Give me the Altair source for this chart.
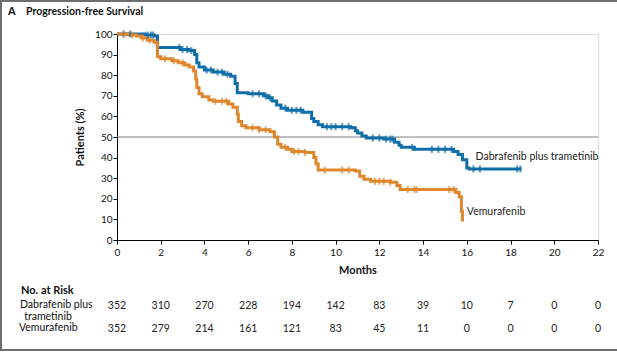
import altair as alt
import pandas as pd
import numpy as np

# ---------------- data ----------------
tick_months = [0, 2, 4, 6, 8, 10, 12, 14, 16, 18, 20, 22]
pct_ticks = [0, 10, 20, 30, 40, 50, 60, 70, 80, 90, 100]
risk_dab = [352, 310, 270, 228, 194, 142, 83, 39, 10, 7, 0, 0]
risk_vem = [352, 279, 214, 161, 121, 83, 45, 11, 0, 0, 0, 0]

dab_t = [0, 1.3, 1.7, 1.85, 2.9, 3.3, 3.55, 3.65, 3.75, 4.0, 4.4, 4.9, 5.2, 5.4, 5.5,
         6.0, 6.7, 6.9, 7.1, 7.3, 7.5, 7.8, 8.5, 8.9, 9.0, 9.2, 9.4, 10.7, 10.9, 11.0,
         11.2, 11.4, 12.2, 12.7, 12.9, 13.0, 13.6, 15.4, 15.6, 15.8, 16.0, 16.1, 18.5]
dab_s = [100, 99.5, 99, 93.5, 92.5, 92, 90, 86, 84, 82.5, 81.5, 80.5, 79.5, 76, 71.5,
         71, 70, 69, 67.5, 65.5, 64, 63, 62, 59, 57.5, 56, 55, 54.5, 53, 52,
         50.5, 49.5, 49, 47.5, 46, 45, 44, 43, 41.5, 39, 35, 34.5, 34.5]

vem_t = [0, 0.5, 0.9, 1.1, 1.4, 1.7, 1.85, 2.0, 2.5, 2.8, 3.1, 3.3, 3.5, 3.6, 3.65,
         3.75, 3.9, 4.2, 4.4, 5.1, 5.3, 5.5, 5.55, 5.7, 5.9, 6.5, 7.0, 7.2, 7.35, 7.5,
         7.8, 8.0, 8.6, 9.0, 9.1, 9.2, 10.9, 11.1, 11.3, 11.6, 12.5, 12.8, 12.95, 15.5,
         15.65, 15.75, 15.8]
vem_s = [100, 99.5, 99, 98, 97, 96, 89, 88, 87, 86, 85, 84, 82, 78, 74,
         71, 69.5, 68, 67.3, 66, 64.5, 61, 57.5, 55.5, 54.5, 53.5, 52.5, 50, 46.5, 45,
         44, 43, 42.5, 40, 37, 34, 33.5, 31, 29.5, 28.5, 28, 26.5, 24.5, 23,
         21, 14, 9]

dab_cens = [0.3, 0.6, 1.4, 1.55, 1.65, 2.85, 3.0, 3.2, 3.4, 4.1, 4.3, 4.6, 4.8, 5.05,
            6.2, 6.5, 6.8, 7.0, 7.7, 8.0, 8.2, 8.4, 9.6, 9.8, 10.0, 10.3, 10.6, 11.7,
            12.0, 12.3, 12.5, 12.6, 13.5, 14.4, 14.7, 15.0, 15.3, 16.3, 16.6, 18.3, 18.45]
vem_cens = [0.3, 0.7, 1.2, 1.5, 2.2, 2.6, 3.0, 4.5, 4.8, 5.0, 6.2, 6.5, 6.8, 7.7, 8.1,
            8.3, 8.6, 9.5, 10.3, 10.6, 11.8, 12.0, 12.2, 12.5, 13.3, 13.6, 13.7, 15.2, 15.4]

DAB = "Dabrafenib plus trametinib"
VEM = "Vemurafenib"
BLUE = "#0F6EA8"
ORANGE = "#E0862C"
FONT = "Lato"


def step_value(ts, ss, t):
    i = int(np.searchsorted(np.array(ts), t, side="right")) - 1
    return ss[max(i, 0)]


lines = pd.concat([
    pd.DataFrame({"t": dab_t, "s": dab_s, "g": DAB, "o": range(len(dab_t))}),
    pd.DataFrame({"t": vem_t, "s": vem_s, "g": VEM, "o": range(len(vem_t))}),
])
cens = pd.concat([
    pd.DataFrame({"t": dab_cens, "s": [step_value(dab_t, dab_s, c) for c in dab_cens], "g": DAB}),
    pd.DataFrame({"t": vem_cens, "s": [step_value(vem_t, vem_s, c) for c in vem_cens], "g": VEM}),
])
risk = pd.DataFrame({"m": tick_months, "d": risk_dab, "v": risk_vem})

xs = alt.Scale(domain=[0, 22], nice=False, zero=False)
ys = alt.Scale(domain=[0, 100], nice=False)
cs = alt.Scale(domain=[DAB, VEM], range=[BLUE, ORANGE])

W, H = 481, 206

xa = alt.Axis(
    values=tick_months, title="Months", grid=False, tickSize=4, labelPadding=3,
    domainColor="black", tickColor="black", labelColor="#111", labelFontSize=10,
    labelFont=FONT, titleFont=FONT, titleFontSize=11, titleFontWeight="bold",
    titlePadding=7, titleColor="#111", labelFlush=False, labelOverlap=False)
ya = alt.Axis(
    values=pct_ticks, title="Patients (%)", grid=False, tickSize=4,
    labelPadding=1, domainColor="black", tickColor="black", labelColor="#111",
    labelFontSize=10, labelFont=FONT, titleFont=FONT, titleFontSize=11,
    titleFontWeight="bold", titlePadding=9, titleColor="#111", labelOverlap=False,
    labelFlush=False)


def X(field):
    return alt.X(field, scale=xs, axis=xa, title="Months")


def Y(field):
    return alt.Y(field, scale=ys, axis=ya, title="Patients (%)")


ref50 = alt.Chart(pd.DataFrame({"a": [0], "b": [22], "y": [50]})).mark_rule(
    color="#808080", strokeWidth=1).encode(x=X("a:Q"), x2="b:Q", y=Y("y:Q"))

curve = alt.Chart(lines).mark_line(interpolate="step-after", strokeWidth=3).encode(
    x=X("t:Q"), y=Y("s:Q"), color=alt.Color("g:N", scale=cs, legend=None),
    detail="g:N", order="o:Q")

ticks = alt.Chart(cens).mark_tick(orient="vertical", size=7, thickness=2).encode(
    x=X("t:Q"), y=Y("s:Q"), color=alt.Color("g:N", scale=cs, legend=None))

lab = pd.DataFrame({"t": [16.4, 16.0], "s": [40.3, 13.6], "txt": [DAB, VEM]})
labels = alt.Chart(lab).mark_text(align="left", baseline="middle", font=FONT,
                                  fontSize=10.5, color="#222").encode(
    x=X("t:Q"), y=Y("s:Q"), text="txt:N")

row_d = alt.Chart(risk).mark_text(font=FONT, fontSize=10.5, color="#222").encode(
    x=X("m:Q"), y=alt.value(272), text="d:Q")
row_v = alt.Chart(risk).mark_text(font=FONT, fontSize=10.5, color="#222").encode(
    x=X("m:Q"), y=alt.value(295), text="v:Q")


def txt(s, x, y, weight="normal", size=10.5, align="left"):
    return alt.Chart(pd.DataFrame({"s": [s]})).mark_text(
        align=align, baseline="middle", font=FONT, fontSize=size,
        fontWeight=weight, color="#111").encode(
        x=alt.value(x), y=alt.value(y), text="s:N")


side = [
    txt("A", -109, -22, "bold", 11),
    txt("Progression-free Survival", -91, -22, "bold", 10.5),
    txt("No. at Risk", -96, 257, "bold", 11),
    txt("Dabrafenib plus", -97, 271),
    txt("trametinib", -69, 283, align="center"),
    txt("Vemurafenib", -98, 294),
]

frame = [
    alt.Chart(pd.DataFrame({"k": [0]})).mark_rule(color="#6e6e6e", strokeWidth=2).encode(
        x=alt.value(-117), x2=alt.value(500), y=alt.value(-33)),
    alt.Chart(pd.DataFrame({"k": [0]})).mark_rule(color="#6e6e6e", strokeWidth=2).encode(
        x=alt.value(-116), y=alt.value(-34), y2=alt.value(317)),
    alt.Chart(pd.DataFrame({"k": [0]})).mark_rule(color="#6e6e6e", strokeWidth=2).encode(
        x=alt.value(-117), x2=alt.value(500), y=alt.value(316)),
]

chart = alt.layer(ref50, curve, ticks, labels, row_d, row_v, *side, *frame).properties(
    width=W, height=H,
    autosize=alt.AutoSizeParams(type="none"),
    padding={"left": 117, "top": 34, "right": 19, "bottom": 113},
).configure_view(strokeWidth=0, stroke="transparent").configure(background="white")

chart.save("out.html", embed_options={"renderer": "svg", "actions": False})
